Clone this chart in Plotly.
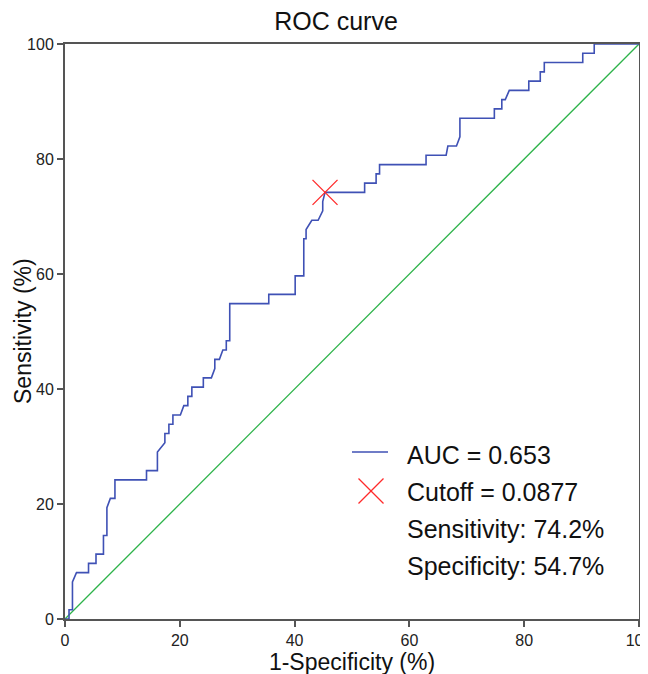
import plotly.graph_objects as go

# ROC curve vertices (1-Specificity %, Sensitivity %)
fpr = [0, 0.7, 0.7, 1.3, 1.3, 2.0, 4.1, 4.1, 5.4, 5.4, 6.7, 6.7, 7.3, 7.3, 7.9, 8.7, 8.7,
       14.2, 14.2, 16.1, 16.1, 17.4, 17.4, 18.1, 18.1, 18.8, 18.8, 20.1, 20.7, 21.4, 21.4,
       22.1, 22.1, 24.1, 24.1, 25.5, 26.1, 26.1, 26.9, 27.5, 28.1, 28.1, 28.7, 28.7,
       35.5, 35.5, 40.1, 40.1, 41.6, 41.6, 42.0, 42.0, 43.0, 44.1, 44.9, 44.9, 45.3,
       52.2, 52.2, 54.2, 54.2, 54.8, 54.8, 62.9, 62.9, 66.4, 66.7, 68.2, 68.8, 68.8,
       74.8, 74.8, 76.1, 76.1, 76.7, 77.4, 80.8, 80.8, 82.8, 82.8, 83.5, 83.5,
       90.2, 90.2, 92.2, 92.2, 100]
tpr = [0, 0, 1.61, 1.61, 6.45, 8.06, 8.06, 9.68, 9.68, 11.29, 11.29, 14.52, 14.52, 19.35, 20.97, 20.97, 24.19,
       24.19, 25.81, 25.81, 29.03, 30.65, 32.26, 32.26, 33.87, 33.87, 35.48, 35.48, 37.10, 37.10, 38.71,
       38.71, 40.32, 40.32, 41.94, 41.94, 43.55, 45.16, 45.16, 46.77, 46.77, 48.39, 48.39, 54.84,
       54.84, 56.45, 56.45, 59.68, 59.68, 66.13, 66.13, 67.74, 69.35, 69.35, 70.97, 72.58, 74.19,
       74.19, 75.81, 75.81, 77.42, 77.42, 79.03, 79.03, 80.65, 80.65, 82.26, 82.26, 83.87, 87.10,
       87.10, 88.71, 88.71, 90.32, 90.32, 91.94, 91.94, 93.55, 93.55, 95.16, 95.16, 96.77,
       96.77, 98.39, 98.39, 100, 100]

ref_x = [0, 100]
ref_y = [0, 100]

cutoff_x = [45.3]
cutoff_y = [74.2]

ticks = [0, 20, 40, 60, 80, 100]
legend_texts = ["AUC = 0.653", "Cutoff = 0.0877", "Sensitivity: 74.2%", "Specificity: 54.7%"]

FONT = "Liberation Sans, Arial, sans-serif"
BLUE = "#3f51b5"
GREEN = "#2db34a"
RED = "#ff2a2a"
AX = "#555555"

fig = go.Figure()
fig.add_trace(go.Scatter(x=ref_x, y=ref_y, mode="lines",
                         line=dict(color=GREEN, width=1.3), showlegend=False, hoverinfo="skip"))
fig.add_trace(go.Scatter(x=fpr, y=tpr, mode="lines",
                         line=dict(color=BLUE, width=1.6), showlegend=False))
fig.add_trace(go.Scatter(x=cutoff_x, y=cutoff_y, mode="markers",
                         marker=dict(symbol="x-thin", size=25, line=dict(color=RED, width=1.3), color=RED),
                         showlegend=False))

# page has 8px body margin; plot area on page: x 65..639, y 44..619
OFF = 8
W, H = 648, 674
L = 65 - OFF
T = 44 - OFF
R = W - (639 - OFF)
B = H - (619 - OFF)
pw, ph = W - L - R, H - T - B

def px(xp):  # page pixel x -> paper
    return (xp - OFF - L) / pw

def py(yp):  # page pixel y -> paper
    return (H - B - (yp - OFF)) / ph

# manual legend
shapes = []
shapes.append(dict(type="line", xref="paper", yref="paper", x0=px(352), x1=px(388), y0=py(452), y1=py(452),
                   line=dict(color=BLUE, width=1.6)))
cx, cy, hs = 371, 491, 12.5
shapes.append(dict(type="line", xref="paper", yref="paper", x0=px(cx - hs), x1=px(cx + hs), y0=py(cy - hs), y1=py(cy + hs),
                   line=dict(color=RED, width=1.3)))
shapes.append(dict(type="line", xref="paper", yref="paper", x0=px(cx - hs), x1=px(cx + hs), y0=py(cy + hs), y1=py(cy - hs),
                   line=dict(color=RED, width=1.3)))

annotations = []
rows_y = [455, 492, 529, 566]
for t, yy in zip(legend_texts, rows_y):
    annotations.append(dict(text=t, xref="paper", yref="paper", x=px(405), y=py(yy), xanchor="left", yanchor="middle",
                            showarrow=False, font=dict(family=FONT, size=25, color="#111")))
# y-axis title
annotations.append(dict(text="Sensitivity (%)", xref="paper", yref="paper", x=px(23), y=py(331),
                        xanchor="center", yanchor="middle", textangle=-90, showarrow=False,
                        font=dict(family=FONT, size=23, color="#111")))

fig.update_layout(
    width=W, height=H,
    margin=dict(l=L, r=R, t=T, b=B),
    paper_bgcolor="white", plot_bgcolor="white",
    title=dict(text="ROC curve", x=(336 - OFF) / W, xanchor="center", y=1 - (21 - OFF) / H, yanchor="middle",
               font=dict(family=FONT, size=25, color="#111")),
    shapes=shapes, annotations=annotations,
    font=dict(family=FONT),
)
fig.update_xaxes(range=[0, 100], tickvals=ticks, ticktext=[str(t) for t in ticks], showgrid=False, zeroline=False,
                 showline=True, linecolor=AX, linewidth=2, mirror=True, ticks="outside", ticklen=6,
                 tickcolor=AX, tickwidth=2, tickfont=dict(family=FONT, size=16, color="#222"), automargin=False,
                 title=dict(text="1-Specificity (%)", font=dict(family=FONT, size=23, color="#111"), standoff=6))
fig.update_yaxes(range=[0, 100], tickvals=ticks, ticktext=[str(t) for t in ticks], showgrid=False, zeroline=False,
                 showline=True, linecolor=AX, linewidth=2, mirror=True, ticks="outside", ticklen=6,
                 tickcolor=AX, tickwidth=2, tickfont=dict(family=FONT, size=16, color="#222"), automargin=False)

fig.write_html("out.html")
